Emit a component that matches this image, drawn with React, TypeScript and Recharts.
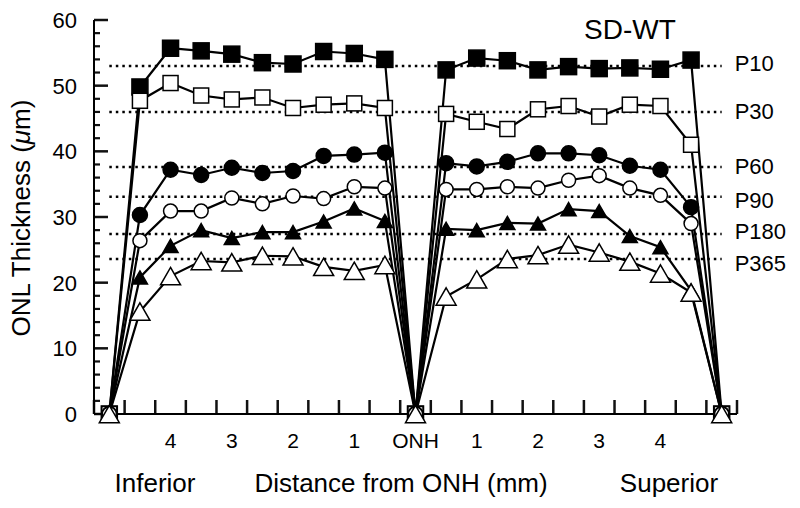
import React from 'react';
import { LineChart, Line, XAxis, YAxis, ReferenceLine } from 'recharts';

const distances = [-5, -4.5, -4, -3.5, -3, -2.5, -2, -1.5, -1, -0.5, 0, 0.5, 1, 1.5, 2, 2.5, 3, 3.5, 4, 4.5, 5];

const p10 = [0, 49.8, 55.7, 55.3, 54.8, 53.5, 53.3, 55.2, 54.9, 54.0, 0, 52.4, 54.2, 53.8, 52.4, 52.9, 52.6, 52.7, 52.5, 53.9, 0];
const p30 = [0, 47.7, 50.4, 48.5, 47.9, 48.2, 46.6, 47.1, 47.3, 46.6, 0, 45.7, 44.5, 43.4, 46.4, 46.9, 45.3, 47.1, 46.9, 41.0, 0];
const p60 = [0, 30.3, 37.2, 36.4, 37.5, 36.7, 37.0, 39.3, 39.5, 39.8, 0, 38.2, 37.7, 38.4, 39.7, 39.7, 39.4, 37.8, 37.2, 31.5, 0];
const p90 = [0, 26.4, 30.9, 30.9, 32.9, 32.0, 33.2, 32.8, 34.6, 34.4, 0, 34.2, 34.2, 34.6, 34.4, 35.6, 36.3, 34.4, 33.3, 29.0, 0];
const p180 = [0, 20.8, 25.6, 28.0, 26.8, 27.7, 27.7, 29.3, 31.3, 29.4, 0, 28.2, 28.0, 29.1, 29.0, 31.2, 30.9, 27.1, 25.4, 18.8, 0];
const p365 = [0, 15.6, 21.0, 23.3, 23.1, 24.1, 24.0, 22.4, 21.8, 22.7, 0, 17.9, 20.5, 23.6, 24.2, 25.8, 24.6, 23.2, 21.4, 18.5, 0];

const refValues = [53.0, 46.0, 37.6, 33.1, 27.4, 23.6];
const refLabels = ['P10', 'P30', 'P60', 'P90', 'P180', 'P365'];
const refLabelDy = [-3, -1, -1, 3, -3, 4];

const xLabelTicks = [-4, -3, -2, -1, 0, 1, 2, 3, 4];
const xMinorTicks = [-5.25, -4.75, -4.25, -3.75, -3.25, -2.75, -2.25, -1.75, -1.25, -0.75, -0.25, 0.25, 0.75, 1.25, 1.75, 2.25, 2.75, 3.25, 3.75, 4.25, 4.75, 5.25];
const yLabelTicks = [0, 10, 20, 30, 40, 50, 60];
const yMinorTicks = [2, 4, 6, 8, 12, 14, 16, 18, 22, 24, 26, 28, 32, 34, 36, 38, 42, 44, 46, 48, 52, 54, 56, 58];

const X_MIN = -5.25;
const X_MAX = 5.25;
// tick-mark lengths expressed in axis units (14px / 6px on a 61.24px-per-mm, 6.567px-per-µm scale)
const X_TICK_LEN = 14 / 6.567;
const Y_MAJOR_LEN = 14 / 61.24;
const Y_MINOR_LEN = 6 / 61.24;

const data = distances.map((x, i) => ({
  x,
  p10: p10[i],
  p30: p30[i],
  p60: p60[i],
  p90: p90[i],
  p180: p180[i],
  p365: p365[i],
}));

const FONT = '"Liberation Sans", Arial, Helvetica, sans-serif';

type Shape = 'square' | 'circle' | 'triangle';

function makeDot(name: string, shape: Shape, fill: string, size: number) {
  return (props: any) => {
    const { cx, cy, index } = props;
    const key = `${name}-${index}`;
    if (cx == null || cy == null) return <g key={key} />;
    if (shape === 'square') {
      return (
        <rect key={key} x={cx - size / 2} y={cy - size / 2} width={size} height={size}
          fill={fill} stroke="#000" strokeWidth={1.5} />
      );
    }
    if (shape === 'circle') {
      return <circle key={key} cx={cx} cy={cy} r={size / 2} fill={fill} stroke="#000" strokeWidth={1.5} />;
    }
    const w = size;
    const h = size * 0.87;
    const pts = `${cx},${cy - h / 2} ${cx + w / 2},${cy + h / 2} ${cx - w / 2},${cy + h / 2}`;
    return <polygon key={key} points={pts} fill={fill} stroke="#000" strokeWidth={1.5} strokeLinejoin="miter" />;
  };
}

const series: { key: string; shape: Shape; fill: string; size: number }[] = [
  { key: 'p10', shape: 'square', fill: '#000', size: 16 },
  { key: 'p30', shape: 'square', fill: '#fff', size: 15 },
  { key: 'p60', shape: 'circle', fill: '#000', size: 15 },
  { key: 'p90', shape: 'circle', fill: '#fff', size: 14 },
  { key: 'p180', shape: 'triangle', fill: '#000', size: 15 },
  { key: 'p365', shape: 'triangle', fill: '#fff', size: 20 },
];

const XTick = (props: any) => {
  const { x, y, payload } = props;
  const v = payload.value;
  return (
    <text x={x} y={y + 34} textAnchor="middle" fontSize={21} fontFamily={FONT} fill="#000">
      {v === 0 ? 'ONH' : String(Math.abs(v))}
    </text>
  );
};

const YTick = (props: any) => {
  const { x, y, payload } = props;
  return (
    <text x={x - 17} y={y} dy="0.36em" textAnchor="end" fontSize={22} fontFamily={FONT} fill="#000">
      {payload.value}
    </text>
  );
};

const makeRefLabel = (text: string, dy: number) => (props: any) => {
  const vb = props.viewBox || {};
  return (
    <text x={vb.x + vb.width + 13} y={vb.y + dy} dy="0.36em" textAnchor="start"
      fontSize={22} fontFamily={FONT} fill="#000">
      {text}
    </text>
  );
};

export default function App() {
  return (
    <div style={{ position: 'absolute', left: 0, top: 0, width: 800, height: 508, background: '#fff' }}>
      <LineChart width={800} height={508} data={data}
        margin={{ top: 20, right: 63, bottom: 0, left: 0 }}>
        <XAxis dataKey="x" type="number" domain={[X_MIN, X_MAX]}
          ticks={xLabelTicks}
          interval={0} height={94} tickSize={0} tickMargin={0} tickLine={false}
          axisLine={{ stroke: '#000', strokeWidth: 2 }} tick={<XTick />} />
        <YAxis type="number" domain={[0, 60]} ticks={yLabelTicks} interval={0} width={94}
          tickSize={0} tickMargin={0} tickLine={false}
          axisLine={{ stroke: '#000', strokeWidth: 2 }} tick={<YTick />} />
        {xMinorTicks.map((t) => (
          <ReferenceLine key={`xt${t}`} segment={[{ x: t, y: 0 }, { x: t, y: X_TICK_LEN }]}
            stroke="#111" strokeWidth={2.5} />
        ))}
        {yLabelTicks.map((t) => (
          <ReferenceLine key={`yM${t}`} segment={[{ x: X_MIN, y: t }, { x: X_MIN + Y_MAJOR_LEN, y: t }]}
            stroke="#111" strokeWidth={2.5} />
        ))}
        {yMinorTicks.map((t) => (
          <ReferenceLine key={`ym${t}`} segment={[{ x: X_MIN, y: t }, { x: X_MIN + Y_MINOR_LEN, y: t }]}
            stroke="#111" strokeWidth={2.2} />
        ))}
        {refValues.map((v, i) => (
          <ReferenceLine key={refLabels[i]} segment={[{ x: -5, y: v }, { x: 5, y: v }]}
            stroke="#000" strokeWidth={2.5} strokeDasharray="2.5 4"
            label={makeRefLabel(refLabels[i], refLabelDy[i])} />
        ))}
        {series.map((s) => (
          <Line key={s.key} dataKey={s.key} type="linear" stroke="#000" strokeWidth={2.2}
            dot={makeDot(s.key, s.shape, s.fill, s.size)} activeDot={false}
            isAnimationActive={false} />
        ))}
      </LineChart>
      <svg width={800} height={508} style={{ position: 'absolute', left: 0, top: 0, pointerEvents: 'none' }}>
        <text x={630} y={39} textAnchor="middle" fontSize={28} fontFamily={FONT} fill="#000">SD-WT</text>
        <text x={155} y={492} textAnchor="middle" fontSize={26} fontFamily={FONT} fill="#000">Inferior</text>
        <text x={401} y={492} textAnchor="middle" fontSize={26} fontFamily={FONT} fill="#000">Distance from ONH (mm)</text>
        <text x={669} y={492} textAnchor="middle" fontSize={26} fontFamily={FONT} fill="#000">Superior</text>
        <text transform="translate(30, 218) rotate(-90)" textAnchor="middle" fontSize={26} fontFamily={FONT} fill="#000">
          ONL Thickness (<tspan fontStyle="italic">μ</tspan>m)
        </text>
      </svg>
    </div>
  );
}
